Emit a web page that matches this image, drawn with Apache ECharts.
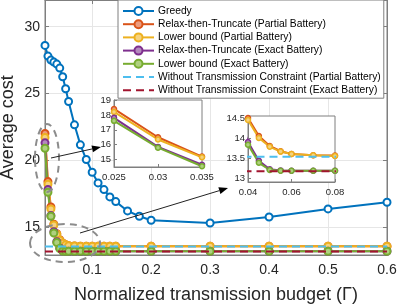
<!DOCTYPE html>
<html><head><meta charset="utf-8">
<script src="https://cdn.jsdelivr.net/npm/echarts@6/dist/echarts.min.js"></script>
<style>html,body{margin:0;padding:0;background:#fff}#c{width:399px;height:306px}</style>
</head><body><div id="c"></div>
<script>
// ---- data ----
var xGreedy = [0.02,0.025,0.03,0.035,0.04,0.045,0.05,0.055,0.06,0.07,0.08,0.09,0.1,0.11,0.12,0.13,0.14,0.16,0.18,0.2,0.3,0.4,0.5,0.6];
var greedy = [28.6,27.8,27.5,27.35,27.2,26.9,26.25,25.35,24.4,22.65,21.15,20.05,19.1,18.3,17.8,17.25,16.9,16.2,15.8,15.5,15.3,15.75,16.35,16.85];
var xOther = [0.02,0.025,0.03,0.035,0.04,0.045,0.05,0.055,0.06,0.07,0.08,0.09,0.1,0.11,0.12,0.13,0.14,0.2,0.3,0.4,0.5,0.6];
var relaxPartial = [22.0,18.4,16.5,15.2,14.5,14.05,13.8,13.67,13.6,13.57,13.56,13.56,13.56,13.56,13.56,13.56,13.56,13.56,13.56,13.56,13.56,13.56];
var lowerPartial = [21.7,18.2,16.35,15.15,14.45,14.0,13.78,13.66,13.6,13.57,13.55,13.55,13.55,13.55,13.55,13.55,13.55,13.55,13.55,13.55,13.55,13.55];
var relaxExact = [21.3,17.8,15.85,14.65,13.9,13.43,13.22,13.19,13.18,13.18,13.18,13.18,13.18,13.18,13.18,13.18,13.18,13.18,13.18,13.18,13.18,13.18];
var lowerExact = [20.9,17.6,15.8,14.55,13.83,13.38,13.2,13.18,13.18,13.18,13.18,13.18,13.18,13.18,13.18,13.18,13.18,13.18,13.18,13.18,13.18,13.18];
var xConst = [0.02,0.6];
var noConstrPartial = [13.53,13.53];
var noConstrExact = [13.17,13.17];
var names = ['Greedy','Relax-then-Truncate (Partial Battery)','Lower bound (Partial Battery)','Relax-then-Truncate (Exact Battery)','Lower bound (Exact Battery)','Without Transmission Constraint (Partial Battery)','Without Transmission Constraint (Exact Battery)'];
var xTicks = [0.1,0.2,0.3,0.4,0.5,0.6];
var yTicks = [15,20,25,30];
var xTicks1 = [0.025,0.03,0.035];
var yTicks1 = [15,16,17,18,19];
var xTicks2 = [0.04,0.06,0.08];
var yTicks2 = [13,13.5,14,14.5];

var colors = ['#0072BD','#D95319','#EDB120','#7E2F8E','#77AC30','#4DBEEE','#A2142F'];
var fills = ['#ffffff','#EC9C7E','#F6D27E','#B48ABD','#AFD07F'];
var FONT = '"Liberation Sans", Arial, Helvetica, sans-serif';
var AX = '#7f7f7f', TXT = '#262626';

function zip(xs, ys){ return xs.map(function(x,i){ return [x, ys[i]]; }); }
function fmt(v){ return String(+(+v).toFixed(3)); }

var lineSets = [
  [xGreedy, greedy], [xOther, relaxPartial], [xOther, lowerPartial],
  [xOther, relaxExact], [xOther, lowerExact], [xConst, noConstrPartial], [xConst, noConstrExact]
];

function makeSeries(gi, symSize, bw, zb){
  return lineSets.map(function(s, i){
    var dashed = i >= 5;
    return {
      type:'line', name:names[i], xAxisIndex:gi, yAxisIndex:gi, z: zb + (dashed?1:0),
      data: zip(s[0], s[1]),
      showSymbol: !dashed, symbol: dashed ? 'none' : 'circle', symbolSize: symSize,
      itemStyle: dashed ? {color:colors[i]} : {color:fills[i], borderColor:colors[i], borderWidth:bw},
      lineStyle: {color:colors[i], width:2, type: dashed ? [8,5] : 'solid'},
      color: colors[i], silent:true, animation:false
    };
  });
}

function valAxis(gi, min, max, ticks, opts){
  var o = {
    type:'value', gridIndex:gi, min:min, max:max,
    axisLine:{show:true, onZero:false, lineStyle:{color:AX, width:1}},
    axisTick:{show:true, inside:true, length:opts.tick, customValues:ticks, lineStyle:{color:AX}},
    axisLabel:{show:opts.label!==false, customValues:ticks, formatter:fmt, color:TXT, fontFamily:FONT, fontSize:opts.fs, margin:opts.margin},
    splitLine:{show:!!opts.split, lineStyle:{color:'#e6e6e6', width:1}},
    z: opts.z || 0
  };
  if (opts.position) o.position = opts.position;
  return o;
}

var chart = echarts.init(document.getElementById('c'), null, {renderer:'canvas'});

var series = [].concat(makeSeries(0, 7, 2, 2), makeSeries(2, 5, 1.5, 6), makeSeries(3, 5, 1.5, 6));

function arrow(x1,y1,x2,y2){
  var dx=x2-x1, dy=y2-y1, L=Math.sqrt(dx*dx+dy*dy), ux=dx/L, uy=dy/L;
  var bx=x2-9*ux, by=y2-9*uy, px=-uy*3.5, py=ux*3.5;
  return [
    {type:'line', shape:{x1:x1,y1:y1,x2:bx,y2:by}, style:{stroke:'#222', lineWidth:1}, z:10},
    {type:'polygon', shape:{points:[[x2,y2],[bx+px,by+py],[bx-px,by-py]]}, style:{fill:'#000'}, z:10}
  ];
}

var graphics = [
  {type:'ellipse', shape:{cx:47, cy:158, rx:12, ry:34}, style:{fill:'none', stroke:'#8c8c8c', lineWidth:2, lineDash:[7,5]}, z:9},
  {type:'ellipse', shape:{cx:65, cy:243, rx:35, ry:19}, style:{fill:'none', stroke:'#8c8c8c', lineWidth:2, lineDash:[7,5]}, z:9}
].concat(arrow(51,158,101,147), arrow(80,233,228,188));

var legendData = names.map(function(n, i){
  if (i >= 5) return {name:n, itemStyle:{color:'rgba(0,0,0,0)', borderColor:'rgba(0,0,0,0)', borderWidth:0}};
  return {name:n};
});

var gridBase = {outerBoundsMode:'none', containLabel:false};
function G(o){ return Object.assign({}, gridBase, o); }

chart.setOption({
  animation:false,
  backgroundColor:'#fff',
  textStyle:{fontFamily:FONT},
  grid:[
    G({left:45, top:0, right:12, bottom:51, show:true, borderColor:AX, borderWidth:1, backgroundColor:'transparent'}),
    G({left:45, top:0, right:12, bottom:51, show:false}),
    G({left:114, top:100, width:88, height:67, show:true, backgroundColor:'#fff', borderColor:AX, borderWidth:1, z:1}),
    G({left:248, top:116, width:87, height:66, show:true, backgroundColor:'#fff', borderColor:AX, borderWidth:1, z:1})
  ],
  xAxis:[
    Object.assign(valAxis(0, 0.02, 0.6, xTicks, {tick:4, fs:14, margin:8, split:true}), {
      name:'Normalized transmission budget (\u0393)', nameLocation:'middle', nameGap:31, nameMoveOverlap:false,
      nameTextStyle:{color:TXT, fontFamily:FONT, fontSize:18}}),
    valAxis(1, 0.02, 0.6, xTicks, {tick:4, label:false, position:'top'}),
    valAxis(2, 0.025, 0.035, xTicks1, {tick:3, fs:9.5, margin:5, z:2}),
    valAxis(3, 0.04, 0.08, xTicks2, {tick:3, fs:9.5, margin:5, z:2})
  ],
  yAxis:[
    Object.assign(valAxis(0, 12.9, 32, yTicks, {tick:4, fs:14, margin:5, split:true}), {
      name:'Average cost', nameLocation:'middle', nameGap:28, nameMoveOverlap:false,
      nameTextStyle:{color:TXT, fontFamily:FONT, fontSize:18}}),
    valAxis(1, 12.9, 32, yTicks, {tick:4, label:false, position:'right'}),
    valAxis(2, 14.5, 19, yTicks1, {tick:3, fs:9.5, margin:3, z:2}),
    valAxis(3, 12.9, 14.55, yTicks2, {tick:3, fs:9.5, margin:3, z:2})
  ],
  legend:{
    show:true, orient:'vertical', left:118, top:0,
    data:legendData, backgroundColor:'#fff', borderColor:'#7f7f7f', borderWidth:1,
    padding:[6,3,3,4], itemWidth:31, itemHeight:10, itemGap:3.2,
    selectedMode:false,
    textStyle:{color:'#000', fontFamily:FONT, fontSize:10.3, padding:[0,0,0,-1]}
  },
  series: series,
  graphic: graphics
});
</script>
</body></html>
